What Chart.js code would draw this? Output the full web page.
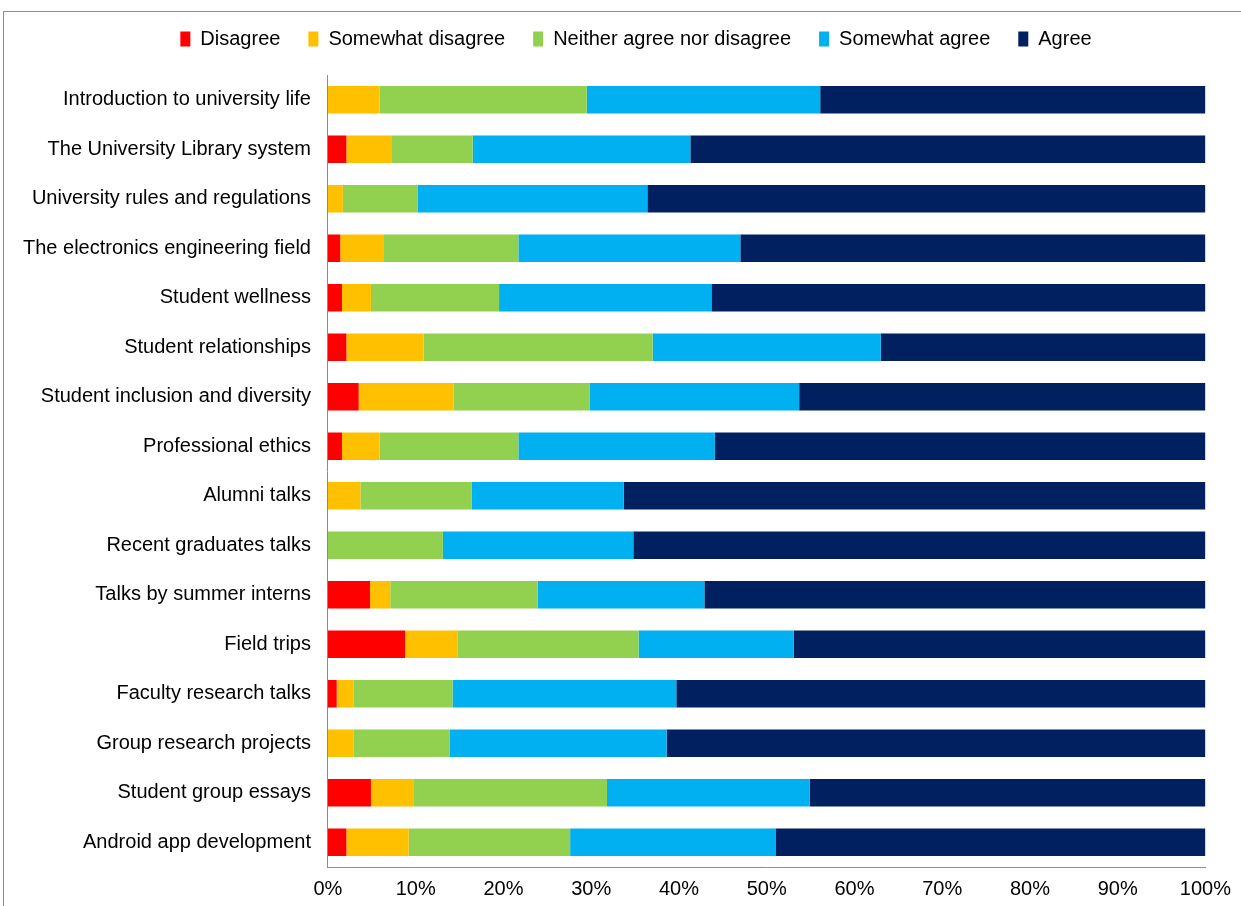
<!DOCTYPE html>
<html>
<head>
<meta charset="utf-8">
<script src="https://cdn.jsdelivr.net/npm/chart.js@4/dist/chart.umd.min.js"></script>
<style>
    html, body { margin: 0; padding: 0; background: #fff; overflow: hidden; }
    #marco {
        position: absolute;
        left: 3px;
        top: 11px;
        width: 2000px;
        height: 2000px;
        border: 1px solid #8c8c8c;
    }
    #contenedor {
        position: absolute;
        left: 0;
        top: 0;
        width: 1241px;
        height: 906px;
    }
</style>
</head>
<body>
<div id="marco"></div>
<div id="contenedor"><canvas id="graficoEncuesta"></canvas></div>
<script>
const temas = [
    'Introduction to university life',
    'The University Library system',
    'University rules and regulations',
    'The electronics engineering field',
    'Student wellness',
    'Student relationships',
    'Student inclusion and diversity',
    'Professional ethics',
    'Alumni talks',
    'Recent graduates talks',
    'Talks by summer interns',
    'Field trips',
    'Faculty research talks',
    'Group research projects',
    'Student group essays',
    'Android app development'
];

// porcentajes (cada fila suma 100)
const enDesacuerdo       = [0,   2.1, 0,   1.4, 1.6, 2.1, 3.5, 1.6, 0,    0,    4.8, 8.8, 1.0, 0,    4.9, 2.1];
const algoEnDesacuerdo   = [5.9, 5.2, 1.7, 4.9, 3.3, 8.8, 10.8, 4.3, 3.7, 0,    2.3, 6.0, 1.9, 2.9,  4.9, 7.1];
const neutral            = [23.6, 9.2, 8.5, 15.4, 14.6, 26.1, 15.5, 15.8, 12.7, 13.1, 16.8, 20.6, 11.3, 11.0, 22.0, 18.4];
const algoDeAcuerdo      = [26.6, 24.8, 26.2, 25.3, 24.2, 26.0, 23.9, 22.4, 17.3, 21.7, 19.0, 17.7, 25.5, 24.7, 23.1, 23.4];
const deAcuerdo          = [43.9, 58.7, 63.6, 53.0, 56.3, 37.0, 46.3, 55.9, 66.3, 65.2, 57.1, 46.9, 60.3, 61.4, 45.1, 49.0];

const ticksX = [0, 10, 20, 30, 40, 50, 60, 70, 80, 90, 100];

const fuente = 'Arial, "Liberation Sans", sans-serif';

function serie(nombre, datos, color) {
    return {
        label: nombre,
        data: datos,
        backgroundColor: color,
        borderWidth: 0,
        barPercentage: 0.556,
        categoryPercentage: 1.0
    };
}

// da mas alto a la leyenda y la corre un poco a la derecha
const ajusteLeyenda = {
    id: 'ajusteLeyenda',
    beforeInit(chart) {
        const fitOriginal = chart.legend.fit;
        chart.legend.fit = function () {
            fitOriginal.bind(chart.legend)();
            this.height += 16;
        };
    },
    afterLayout(chart) {
        chart.legend.left += 30;
        chart.legend.right += 30;
    }
};

const ctx = document.getElementById('graficoEncuesta').getContext('2d');

const grafico = new Chart(ctx, {
    type: 'bar',
    data: {
        labels: temas,
        datasets: [
            serie('Disagree', enDesacuerdo, '#FF0000'),
            serie('Somewhat disagree', algoEnDesacuerdo, '#FFC000'),
            serie('Neither agree nor disagree', neutral, '#92D050'),
            serie('Somewhat agree', algoDeAcuerdo, '#00B0F0'),
            serie('Agree', deAcuerdo, '#002060')
        ]
    },
    options: {
        indexAxis: 'y',
        responsive: true,
        maintainAspectRatio: false,
        animation: false,
        layout: {
            padding: { left: 6, right: 35, top: 1, bottom: -5 }
        },
        scales: {
            x: {
                stacked: true,
                min: 0,
                max: 100,
                afterBuildTicks: (eje) => {
                    eje.ticks = ticksX.map(v => ({ value: v }));
                },
                grid: { display: false, drawTicks: false },
                border: { display: true, color: '#8c8c8c', width: 1 },
                ticks: {
                    padding: 10,
                    color: '#000',
                    font: { family: fuente, size: 20 },
                    callback: (v) => v + '%'
                }
            },
            y: {
                stacked: true,
                grid: { display: false, drawTicks: false },
                border: { display: true, color: '#8c8c8c', width: 1 },
                ticks: {
                    padding: 17,
                    color: '#000',
                    font: { family: fuente, size: 20 }
                }
            }
        },
        plugins: {
            legend: {
                display: true,
                position: 'top',
                labels: {
                    boxWidth: 10,
                    boxHeight: 15,
                    padding: 28,
                    color: '#000',
                    font: { family: fuente, size: 20 }
                }
            },
            tooltip: { enabled: false }
        }
    },
    plugins: [ajusteLeyenda]
});
</script>
</body>
</html>
